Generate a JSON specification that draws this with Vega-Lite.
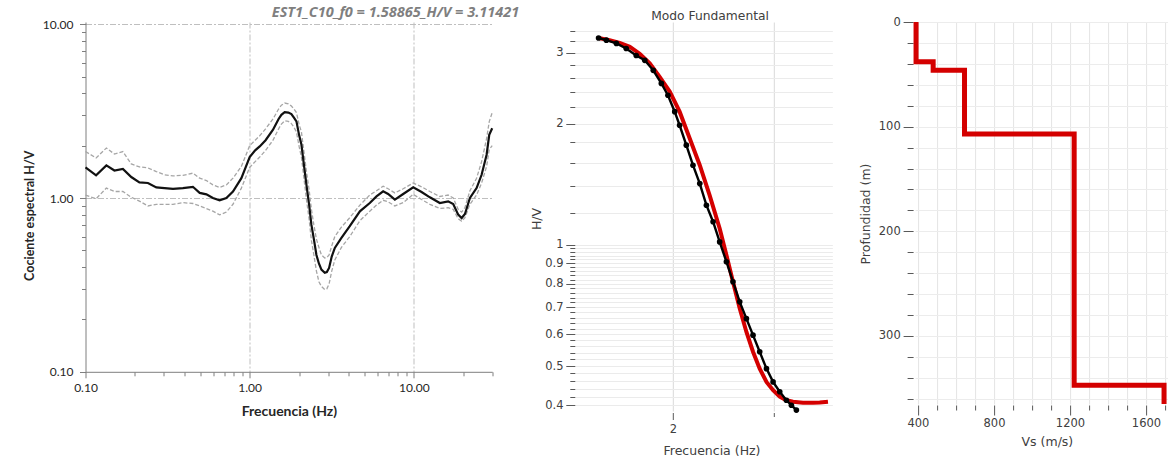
{
  "$schema": "https://vega.github.io/schema/vega-lite/v6.json",
  "background": "white",
  "padding": {"left": 23.5, "top": 5.0, "right": 0, "bottom": 0},
  "spacing": 82.3,
  "bounds": "flush",
  "config": {"view": {"stroke": null}},
  "datasets": {
    "hv": [
      {"f":0.100,"m":1.50,"u":1.85,"l":1.04},
      {"f":0.116,"m":1.35,"u":1.70,"l":0.99},
      {"f":0.134,"m":1.54,"u":1.94,"l":1.14},
      {"f":0.150,"m":1.44,"u":1.79,"l":1.09},
      {"f":0.169,"m":1.47,"u":1.85,"l":1.09},
      {"f":0.190,"m":1.32,"u":1.57,"l":1.01},
      {"f":0.213,"m":1.23,"u":1.51,"l":0.96},
      {"f":0.240,"m":1.22,"u":1.49,"l":0.90},
      {"f":0.270,"m":1.15,"u":1.42,"l":0.92},
      {"f":0.303,"m":1.14,"u":1.36,"l":0.92},
      {"f":0.341,"m":1.13,"u":1.34,"l":0.92},
      {"f":0.392,"m":1.14,"u":1.35,"l":0.94},
      {"f":0.451,"m":1.16,"u":1.39,"l":0.93},
      {"f":0.496,"m":1.07,"u":1.30,"l":0.90},
      {"f":0.545,"m":1.05,"u":1.26,"l":0.87},
      {"f":0.597,"m":1.00,"u":1.19,"l":0.84},
      {"f":0.656,"m":0.97,"u":1.15,"l":0.80},
      {"f":0.721,"m":1.00,"u":1.19,"l":0.83},
      {"f":0.791,"m":1.09,"u":1.30,"l":0.92},
      {"f":0.890,"m":1.30,"u":1.52,"l":1.14},
      {"f":1.000,"m":1.72,"u":2.00,"l":1.50},
      {"f":1.080,"m":1.88,"u":2.15,"l":1.62},
      {"f":1.151,"m":1.98,"u":2.28,"l":1.72},
      {"f":1.250,"m":2.15,"u":2.50,"l":1.88},
      {"f":1.387,"m":2.47,"u":2.85,"l":2.15},
      {"f":1.500,"m":2.85,"u":3.25,"l":2.50},
      {"f":1.560,"m":3.01,"u":3.42,"l":2.66},
      {"f":1.634,"m":3.12,"u":3.52,"l":2.78},
      {"f":1.720,"m":3.10,"u":3.48,"l":2.76},
      {"f":1.795,"m":3.04,"u":3.38,"l":2.68},
      {"f":1.860,"m":2.90,"u":3.25,"l":2.55},
      {"f":1.927,"m":2.76,"u":3.10,"l":2.40},
      {"f":2.000,"m":2.30,"u":2.65,"l":1.98},
      {"f":2.066,"m":2.03,"u":2.40,"l":1.72},
      {"f":2.140,"m":1.55,"u":1.85,"l":1.30},
      {"f":2.217,"m":1.19,"u":1.42,"l":0.98},
      {"f":2.300,"m":0.92,"u":1.12,"l":0.76},
      {"f":2.377,"m":0.70,"u":0.86,"l":0.57},
      {"f":2.460,"m":0.58,"u":0.70,"l":0.47},
      {"f":2.550,"m":0.47,"u":0.58,"l":0.38},
      {"f":2.640,"m":0.42,"u":0.52,"l":0.33},
      {"f":2.735,"m":0.387,"u":0.47,"l":0.31},
      {"f":2.866,"m":0.371,"u":0.452,"l":0.297},
      {"f":2.950,"m":0.375,"u":0.455,"l":0.30},
      {"f":3.045,"m":0.396,"u":0.47,"l":0.32},
      {"f":3.160,"m":0.46,"u":0.53,"l":0.38},
      {"f":3.300,"m":0.516,"u":0.60,"l":0.44},
      {"f":3.620,"m":0.589,"u":0.68,"l":0.52},
      {"f":4.070,"m":0.688,"u":0.77,"l":0.60},
      {"f":4.690,"m":0.838,"u":0.91,"l":0.74},
      {"f":5.390,"m":0.936,"u":1.04,"l":0.84},
      {"f":5.920,"m":1.022,"u":1.10,"l":0.91},
      {"f":6.500,"m":1.092,"u":1.17,"l":0.97},
      {"f":6.970,"m":1.054,"u":1.13,"l":0.95},
      {"f":7.660,"m":0.978,"u":1.07,"l":0.90},
      {"f":8.610,"m":1.054,"u":1.13,"l":0.94},
      {"f":9.910,"m":1.152,"u":1.22,"l":1.05},
      {"f":11.14,"m":1.083,"u":1.16,"l":0.98},
      {"f":12.52,"m":1.009,"u":1.09,"l":0.92},
      {"f":14.39,"m":0.936,"u":1.02,"l":0.87},
      {"f":16.18,"m":0.957,"u":1.04,"l":0.88},
      {"f":17.37,"m":0.924,"u":1.00,"l":0.86},
      {"f":18.62,"m":0.802,"u":0.86,"l":0.76},
      {"f":19.54,"m":0.767,"u":0.83,"l":0.735},
      {"f":20.47,"m":0.809,"u":0.88,"l":0.77},
      {"f":21.95,"m":1.00,"u":1.10,"l":0.92},
      {"f":24.10,"m":1.141,"u":1.30,"l":1.04},
      {"f":25.86,"m":1.36,"u":1.62,"l":1.22},
      {"f":27.74,"m":1.774,"u":2.20,"l":1.52},
      {"f":28.78,"m":2.31,"u":2.75,"l":1.90},
      {"f":30.0,"m":2.52,"u":3.10,"l":2.00}
    ],
    "fund": [
      {"f":1.484,"hv":3.26},{"f":1.531,"hv":3.22},{"f":1.594,"hv":3.16},{"f":1.658,"hv":3.07},
      {"f":1.726,"hv":2.95},{"f":1.786,"hv":2.87},{"f":1.848,"hv":2.71},{"f":1.909,"hv":2.515},
      {"f":1.960,"hv":2.35},{"f":2.014,"hv":2.14},{"f":2.054,"hv":1.98},{"f":2.110,"hv":1.767},
      {"f":2.167,"hv":1.576},{"f":2.227,"hv":1.419},{"f":2.287,"hv":1.254},{"f":2.349,"hv":1.141},
      {"f":2.412,"hv":1.017},{"f":2.478,"hv":0.908},{"f":2.544,"hv":0.810},{"f":2.614,"hv":0.722},
      {"f":2.685,"hv":0.656},{"f":2.757,"hv":0.597},{"f":2.832,"hv":0.543},{"f":2.910,"hv":0.493},
      {"f":2.988,"hv":0.457},{"f":3.069,"hv":0.432},{"f":3.152,"hv":0.4115},{"f":3.216,"hv":0.400},
      {"f":3.281,"hv":0.389}
    ],
    "teo": [
      {"f":1.484,"hv":3.26},{"f":1.551,"hv":3.22},{"f":1.615,"hv":3.17},{"f":1.682,"hv":3.10},
      {"f":1.750,"hv":2.98},{"f":1.822,"hv":2.82},{"f":1.896,"hv":2.61},{"f":1.974,"hv":2.40},
      {"f":2.054,"hv":2.14},{"f":2.139,"hv":1.836},{"f":2.227,"hv":1.576},{"f":2.317,"hv":1.327},
      {"f":2.412,"hv":1.098},{"f":2.478,"hv":0.943},{"f":2.544,"hv":0.810},{"f":2.614,"hv":0.695},
      {"f":2.685,"hv":0.608},{"f":2.757,"hv":0.543},{"f":2.832,"hv":0.493},{"f":2.910,"hv":0.457},
      {"f":2.988,"hv":0.436},{"f":3.069,"hv":0.420},{"f":3.152,"hv":0.4115},{"f":3.237,"hv":0.408},
      {"f":3.369,"hv":0.4055},{"f":3.507,"hv":0.4055},{"f":3.603,"hv":0.4062},{"f":3.724,"hv":0.408}
    ],
    "perfil": [
      {"i":0,"vs":390,"z":0},{"i":1,"vs":390,"z":38},{"i":2,"vs":480,"z":38},{"i":3,"vs":480,"z":46},
      {"i":4,"vs":645,"z":46},{"i":5,"vs":645,"z":107},{"i":6,"vs":1222,"z":107},{"i":7,"vs":1222,"z":347},
      {"i":8,"vs":1695,"z":347},{"i":9,"vs":1695,"z":365}
    ]
  },
  "hconcat": [
    {
      "width": 406.7,
      "height": 349.8,
      "title": {"text": "EST1_C10_f0 = 1.58865_H/V = 3.11421", "anchor": "end", "frame": "group", "dx": 27, "offset": -13.4, "baseline": "alphabetic", "font": "Open Sans", "fontSize": 14.5, "fontStyle": "italic", "fontWeight": "bold", "color": "#7f7f7f"},
      "data": {"name": "hv"},
      "transform": [{"fold": ["u", "l", "m"], "as": ["serie", "v"]}],
      "encoding": {
        "x": {
          "field": "f", "type": "quantitative",
          "scale": {"type": "log", "domain": [0.1, 30], "nice": false},
          "axis": {
            "title": "Frecuencia (Hz)",
            "values": [0.1,0.2,0.3,0.4,0.5,0.6,0.7,0.8,0.9,1,2,3,4,5,6,7,8,9,10,20,30],
            "labelExpr": "datum.value == 0.1 || datum.value == 1 || datum.value == 10 ? format(datum.value, '.2f') : ''",
            "labelFlush": false, "labelOverlap": false,
            "grid": true, "gridColor": "#bfbfbf", "gridDash": [6, 2, 2, 2], "gridWidth": 1,
            "gridOpacity": {"condition": {"test": "datum.value == 1 || datum.value == 10", "value": 1}, "value": 0},
            "domainColor": "#7f7f7f", "tickColor": "#7f7f7f",
            "tickSize": {"condition": {"test": "datum.value == 0.1 || datum.value == 1 || datum.value == 10", "value": 6}, "value": 4},
            "labelFont": "Lato", "labelFontSize": 12, "labelColor": "#262626", "labelPadding": 5,
            "titleFont": "Lato", "titleFontSize": 14, "titleFontWeight": "bold", "titleColor": "#262626",
            "titleX": 203.35, "titleY": 40, "titleBaseline": "middle", "titleAlign": "center"
          }
        },
        "y": {
          "field": "v", "type": "quantitative",
          "scale": {"type": "log", "domain": [0.1, 10.296], "nice": false},
          "axis": {
            "title": "Cociente espectral H/V",
            "values": [0.1,0.2,0.3,0.4,0.5,0.6,0.7,0.8,0.9,1,2,3,4,5,6,7,8,9,10],
            "labelExpr": "datum.value == 0.1 || datum.value == 1 || datum.value == 10 ? format(datum.value, '.2f') : ''",
            "labelOverlap": false,
            "grid": true, "gridColor": "#bfbfbf", "gridDash": [6, 2, 2, 2], "gridWidth": 1,
            "gridOpacity": {"condition": {"test": "datum.value == 1 || datum.value == 10", "value": 1}, "value": 0},
            "domainColor": "#7f7f7f", "tickColor": "#7f7f7f",
            "tickSize": {"condition": {"test": "datum.value == 0.1 || datum.value == 1 || datum.value == 10", "value": 6}, "value": 4},
            "labelFont": "Lato", "labelFontSize": 12, "labelColor": "#262626", "labelPadding": 6.5,
            "titleFont": "Lato", "titleFontSize": 12.5, "titleFontWeight": "bold", "titleColor": "#262626",
            "titleX": -56, "titleY": 193.2, "titleAngle": -90, "titleBaseline": "middle", "titleAlign": "center"
          }
        }
      },
      "layer": [
        {
          "transform": [{"filter": "datum.serie != 'm'"}],
          "mark": {"type": "line", "color": "#a6a6a6", "strokeWidth": 1.3, "strokeDash": [4, 2]},
          "encoding": {"detail": {"field": "serie", "type": "nominal"}}
        },
        {
          "transform": [{"filter": "datum.serie == 'm'"}],
          "mark": {"type": "line", "color": "#111111", "strokeWidth": 2.2},
          "encoding": {}
        }
      ]
    },
    {
      "width": 257.55,
      "height": 389,
      "title": {"text": "Modo Fundamental", "anchor": "middle", "dx": 6.5, "offset": -9.9, "baseline": "alphabetic", "font": "DejaVu Sans", "fontSize": 12.3, "fontWeight": "normal", "color": "#404040"},
      "encoding": {
        "x": {
          "field": "f", "type": "quantitative",
          "scale": {"type": "log", "domain": [1.349, 3.79], "nice": false},
          "axis": {
            "title": "Frecuencia (Hz)",
            "values": [2, 3],
            "labelExpr": "datum.value == 2 ? '2' : ''",
            "labelFlush": false, "labelOverlap": false,
            "domain": false, "offset": 1.5,
            "grid": true, "gridColor": "#d9d9d9",
            "tickColor": "#595959",
            "tickSize": {"condition": {"test": "datum.value == 2", "value": 7}, "value": 4},
            "labelFont": "DejaVu Sans", "labelFontSize": 11.5, "labelColor": "#404040", "labelPadding": 4,
            "titleFont": "DejaVu Sans", "titleFontSize": 12.5, "titleFontWeight": "normal", "titleColor": "#404040",
            "titleX": 136.7, "titleY": 38, "titleBaseline": "middle", "titleAlign": "center"
          }
        },
        "y": {
          "field": "hv", "type": "quantitative",
          "scale": {"type": "log", "domain": [0.387, 3.572], "nice": false},
          "axis": {
            "title": "H/V",
            "values": [0.4,0.42,0.44,0.46,0.48,0.5,0.52,0.54,0.56,0.58,0.6,0.62,0.64,0.66,0.68,0.7,0.72,0.74,0.76,0.78,0.8,0.82,0.84,0.86,0.88,0.9,0.92,0.94,0.96,0.98,1,1.2,1.4,1.6,1.8,2,2.2,2.4,2.6,2.8,3,3.2,3.4],
            "labelExpr": "indexof([0.4,0.5,0.6,0.7,0.8,0.9,1,2,3], datum.value) >= 0 ? format(datum.value, '~g') : ''",
            "labelOverlap": false,
            "domain": false,
            "grid": true, "gridColor": "#ebebeb",
            "tickColor": "#595959",
            "tickSize": {"condition": {"test": "indexof([0.4,0.5,0.6,0.7,0.8,0.9,1,2,3], datum.value) >= 0", "value": 9}, "value": 5},
            "labelFont": "DejaVu Sans", "labelFontSize": 11.5, "labelColor": "#404040", "labelPadding": 2.7,
            "titleFont": "DejaVu Sans", "titleFontSize": 12.5, "titleFontWeight": "normal", "titleColor": "#404040",
            "titleX": -38.3, "titleY": 196.5, "titleAngle": -90, "titleBaseline": "middle", "titleAlign": "center"
          }
        }
      },
      "layer": [
        {
          "data": {"name": "teo"},
          "mark": {"type": "line", "color": "#d40000", "strokeWidth": 4}
        },
        {
          "data": {"name": "fund"},
          "mark": {"type": "line", "color": "#000000", "strokeWidth": 2.4, "point": {"filled": true, "size": 32, "color": "#000000"}}
        }
      ]
    },
    {
      "width": 252.75,
      "height": 382,
      "data": {"name": "perfil"},
      "mark": {"type": "line", "color": "#d40000", "strokeWidth": 5, "strokeJoin": "miter"},
      "encoding": {
        "x": {
          "field": "vs", "type": "quantitative",
          "scale": {"domain": [385, 1715], "nice": false, "zero": false},
          "axis": {
            "title": "Vs (m/s)",
            "values": [400,500,600,700,800,900,1000,1100,1200,1300,1400,1500,1600,1700],
            "labelExpr": "datum.value % 400 == 0 ? '' + datum.value : ''",
            "labelFlush": false, "labelOverlap": false,
            "domain": false, "offset": 1,
            "grid": true, "gridColor": "#e4e4e4",
            "tickColor": "#595959",
            "tickSize": {"condition": {"test": "datum.value % 400 == 0", "value": 10}, "value": 5},
            "labelFont": "DejaVu Sans", "labelFontSize": 11.5, "labelColor": "#404040", "labelPadding": 2,
            "titleFont": "DejaVu Sans", "titleFontSize": 12.5, "titleFontWeight": "normal", "titleColor": "#404040",
            "titleX": 131.8, "titleY": 36.8, "titleBaseline": "middle", "titleAlign": "center"
          }
        },
        "y": {
          "field": "z", "type": "quantitative",
          "scale": {"domain": [0, 365], "nice": false, "reverse": true},
          "axis": {
            "title": "Profundidad (m)",
            "values": [0,20,40,60,80,100,120,140,160,180,200,220,240,260,280,300,320,340,360],
            "labelExpr": "datum.value % 100 == 0 ? '' + datum.value : ''",
            "labelOverlap": false,
            "domain": false, "offset": 2,
            "grid": true, "gridColor": "#ececec",
            "tickColor": "#595959",
            "tickSize": {"condition": {"test": "datum.value % 100 == 0", "value": 10}, "value": 6},
            "labelFont": "DejaVu Sans", "labelFontSize": 11.5, "labelColor": "#404040", "labelPadding": 2.85,
            "titleFont": "DejaVu Sans", "titleFontSize": 12.5, "titleFontWeight": "normal", "titleColor": "#404040",
            "titleX": -47.85, "titleY": 191.5, "titleAngle": -90, "titleBaseline": "middle", "titleAlign": "center"
          }
        },
        "order": {"field": "i", "type": "quantitative"}
      }
    }
  ]
}
